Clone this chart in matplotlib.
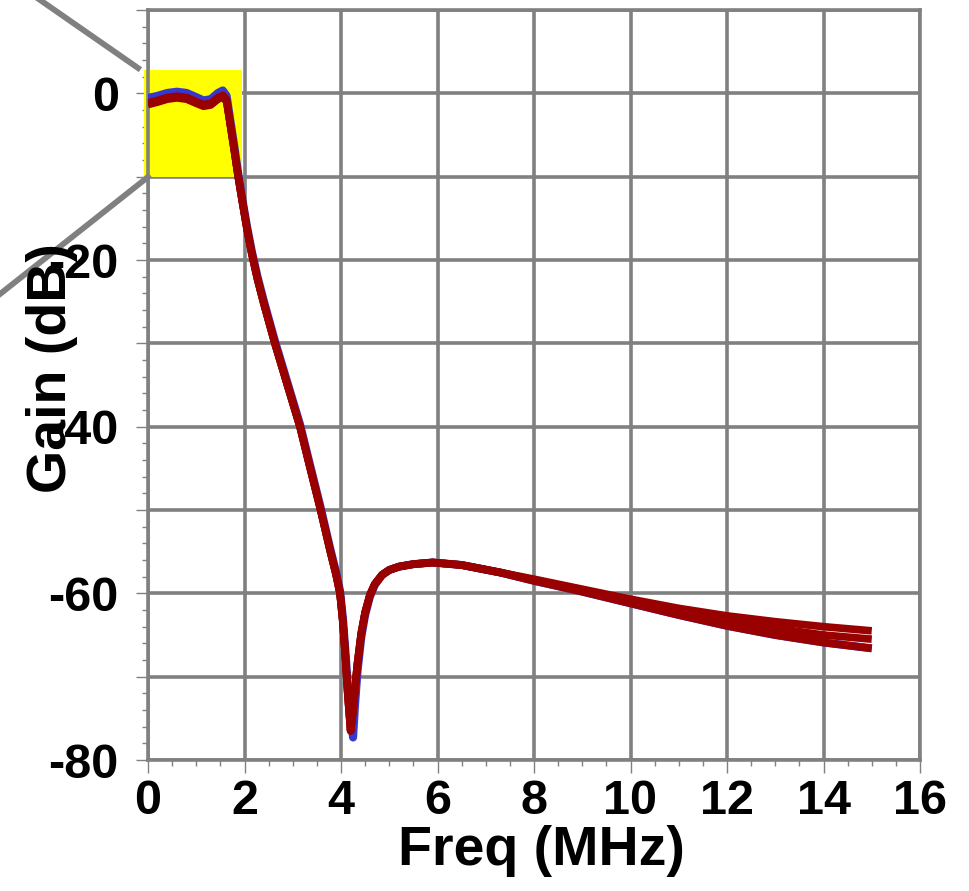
import matplotlib
matplotlib.use("Agg")
import matplotlib.pyplot as plt
from matplotlib.patches import Rectangle
from matplotlib.lines import Line2D
from matplotlib.ticker import MultipleLocator, FuncFormatter

plt.rcParams['font.family'] = ['Liberation Sans', 'DejaVu Sans']
plt.rcParams['font.weight'] = 'bold'

# Frequency grid (MHz) shared by all traces
freq_mhz = [0.0, 0.2, 0.4, 0.6, 0.8, 1.0, 1.15, 1.3, 1.45, 1.55, 1.63,
            1.7, 1.78, 1.87, 1.95, 2.05, 2.15, 2.27, 2.4, 2.63, 2.9,
            3.15, 3.35, 3.57, 3.78, 3.9, 3.98, 4.04, 4.09, 4.14, 4.2,
            4.25, 4.29, 4.34, 4.42, 4.5, 4.6, 4.7, 4.85, 5.0, 5.2,
            5.5, 5.9, 6.5, 7.3, 8.0, 9.0, 10.0, 11.0, 12.0, 13.0,
            14.0, 15.0]

# Gain (dB) of the nominal (blue) trace
gain_blue = [-0.55, -0.3, 0.05, 0.2, 0.05, -0.45, -0.85, -0.7, 0.05, 0.35, -0.3,
             -3.0, -6.0, -9.6, -12.5, -15.9, -18.9, -22.0, -24.9, -29.7, -34.9,
             -39.7, -44.4, -49.5, -54.7, -57.5, -59.7, -63.0, -66.8, -71.0, -75.0,
             -77.3, -73.5, -69.5, -65.3, -62.6, -60.4, -59.0, -57.8, -57.2, -56.8,
             -56.5, -56.3, -56.6, -57.5, -58.5, -59.8, -61.2, -62.6, -63.9, -65.0,
             -65.9, -66.6]

# Gain (dB) of the three corner traces (red)
gain_red_a = [-1.15, -0.85, -0.5, -0.35, -0.5, -1.0, -1.35, -1.2, -0.5, -0.25, -0.8,
              -3.5, -6.5, -10.0, -12.8, -16.2, -19.2, -22.3, -25.2, -30.0, -35.2,
              -40.0, -44.7, -49.8, -55.0, -57.8, -60.0, -63.5, -67.5, -72.0, -76.5,
              -74.0, -71.5, -68.5, -64.8, -62.3, -60.2, -58.9, -57.8, -57.2, -56.8,
              -56.5, -56.3, -56.6, -57.5, -58.3, -59.5, -60.7, -61.8, -62.7, -63.4,
              -64.0, -64.5]
gain_red_b = [-1.25, -0.95, -0.6, -0.45, -0.6, -1.1, -1.45, -1.3, -0.6, -0.35, -0.9,
              -3.5, -6.5, -10.0, -12.8, -16.2, -19.2, -22.3, -25.2, -30.0, -35.2,
              -40.0, -44.7, -49.8, -55.0, -57.8, -60.0, -63.5, -67.5, -72.0, -76.5,
              -74.0, -71.5, -68.5, -64.8, -62.3, -60.2, -58.9, -57.8, -57.2, -56.8,
              -56.5, -56.3, -56.6, -57.5, -58.4, -59.7, -61.0, -62.2, -63.3, -64.2,
              -65.0, -65.5]
gain_red_c = [-1.35, -1.05, -0.7, -0.55, -0.7, -1.2, -1.55, -1.4, -0.7, -0.45, -1.0,
              -3.5, -6.5, -10.0, -12.8, -16.2, -19.2, -22.3, -25.2, -30.0, -35.2,
              -40.0, -44.7, -49.8, -55.0, -57.8, -60.0, -63.5, -67.5, -72.0, -76.5,
              -74.0, -71.5, -68.5, -64.8, -62.3, -60.2, -58.9, -57.8, -57.2, -56.8,
              -56.5, -56.3, -56.6, -57.5, -58.5, -59.8, -61.2, -62.6, -63.9, -65.0,
              -65.9, -66.6]

# Highlighted passband region (MHz, dB)
band_f = [-0.08, 1.94]
band_db = [-10.1, 2.8]

GRAY = '#808080'
RED = '#990000'
BLUE = '#3838cc'

fig = plt.figure(figsize=(9.69, 8.91), dpi=100)
ax = fig.add_axes([148 / 969, 1 - 760 / 891, 772 / 969, 750 / 891])

ax.set_xlim(0, 16)
ax.set_ylim(-80, 10)

ax.xaxis.set_major_locator(MultipleLocator(2))
ax.xaxis.set_minor_locator(MultipleLocator(0.5))
ax.yaxis.set_major_locator(MultipleLocator(10))
ax.yaxis.set_minor_locator(MultipleLocator(2))
ax.yaxis.set_major_formatter(FuncFormatter(
    lambda v, p: f"{int(round(v))}" if round(v) % 20 == 0 and v <= 0 else ""))

ax.grid(which='major', color=GRAY, linewidth=2.6, zorder=1)
ax.set_axisbelow(True)
for s in ax.spines.values():
    s.set_color(GRAY)
    s.set_linewidth(2.6)

ax.tick_params(which='major', direction='out', length=9, width=1.0, color=GRAY,
               labelsize=35, pad=5)
ax.tick_params(which='minor', direction='out', length=4, width=1.0, color=GRAY)
ax.tick_params(axis='y', which='major', pad=12)
for lab in ax.get_xticklabels() + ax.get_yticklabels():
    lab.set_fontweight('bold')

ax.add_patch(Rectangle((band_f[0], band_db[0]), band_f[1] - band_f[0],
                       band_db[1] - band_db[0], facecolor='#ffff00',
                       edgecolor='none', zorder=2.5, clip_on=False))

ax.plot(freq_mhz, gain_blue, color=BLUE, linewidth=5.8, zorder=3,
        solid_joinstyle='round', solid_capstyle='butt')
for g in (gain_red_c, gain_red_b, gain_red_a):
    ax.plot(freq_mhz, g, color=RED, linewidth=5.5, zorder=4,
            solid_joinstyle='round', solid_capstyle='butt')

# zoom connector strokes to the highlighted region
fig.add_artist(Line2D([30 / 969, 138 / 969], [1 + 7 / 891, 1 - 68 / 891],
                      transform=fig.transFigure, color=GRAY, linewidth=4.2))
fig.add_artist(Line2D([-5 / 969, 148 / 969], [1 - 298 / 891, 1 - 177 / 891],
                      transform=fig.transFigure, color=GRAY, linewidth=4.2))

fig.text(541 / 969, 1 - 851 / 891, "Freq (MHz)", ha='center', va='center',
         fontsize=40, fontweight='bold')
fig.text(52 / 969, 1 - 368 / 891, "Gain (dB)", ha='center', va='center',
         rotation=90, fontsize=40, fontweight='bold', zorder=5)

fig.savefig("out.png", dpi=100)
